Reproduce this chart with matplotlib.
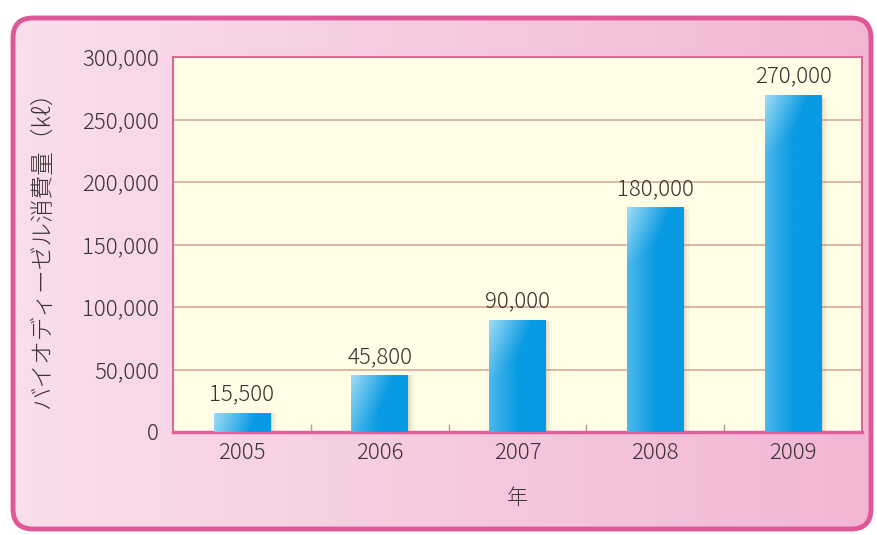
import numpy as np
import matplotlib
matplotlib.use('Agg')
import matplotlib.pyplot as plt
from matplotlib.patches import FancyBboxPatch, Rectangle
from matplotlib.ticker import FuncFormatter, MultipleLocator

plt.rcParams['font.family'] = ['Noto Sans CJK JP', 'DejaVu Sans']

years = ['2005', '2006', '2007', '2008', '2009']
consumption = [15500, 45800, 90000, 180000, 270000]
value_labels = ['15,500', '45,800', '90,000', '180,000', '270,000']
ylabel = 'バイオディーゼル消費量（kℓ）'
xlabel = '年'

W, H = 878, 535
fig = plt.figure(figsize=(W / 100, H / 100), dpi=100)
fig.patch.set_facecolor('white')

# rounded pink panel behind everything
bg = fig.add_axes([0, 0, 1, 1], zorder=0)
bg.set_xlim(0, W)
bg.set_ylim(0, H)
bg.axis('off')
u = np.linspace(0, 1, 256)
c0 = np.array([250, 222, 236]) / 255
c1 = np.array([242, 182, 212]) / 255
grad = (c0[None, :] * (1 - u[:, None]) + c1[None, :] * u[:, None])[None, :, :]
panel = FancyBboxPatch((13, 6), 858, 511, boxstyle='round,pad=0,rounding_size=20',
                       facecolor='none', edgecolor='#de5898', linewidth=3.5, zorder=3)
bg.add_patch(panel)
im = bg.imshow(grad, extent=[13, 871, 6, 517], aspect='auto', zorder=1)
im.set_clip_path(panel)

ax = fig.add_axes([173 / W, 1 - 432 / H, (862 - 173) / W, (432 - 57) / H], zorder=2)
ax.set_facecolor('#fffde6')
x = np.arange(len(years))
bw = 0.41
bars = ax.bar(x, consumption, width=bw, color='#0a9be2', zorder=3)

ax.set_xlim(-0.5, len(years) - 0.5)
ax.set_ylim(0, 300000)

# bar shading: light top-left fading to solid blue, plus soft shadow on the right
ppd_y = (432 - 57) / 300000.0
for b in bars:
    x0, h = b.get_x(), b.get_height()
    for k, a in enumerate([0.12, 0.08, 0.05, 0.03]):
        ax.add_patch(Rectangle((x0 + bw, 0), 0.012 * (k + 1), h * 0.99,
                               facecolor='#8a7a60', alpha=a, lw=0, zorder=2))
    hp = max(int(h * ppd_y), 2)
    yy = np.linspace(1, 0, hp)[:, None]          # 1 at top
    xx = np.linspace(0, 1, 60)[None, :]
    dist_top = (1 - yy) * hp                       # pixels from top
    t = np.clip(1 - xx * 1.3 - dist_top / 110.0, 0, 1)
    t = np.maximum(t, np.clip(0.45 - xx * 0.9, 0, 1))
    light = np.array([160, 220, 246]) / 255
    dark = np.array([8, 154, 226]) / 255
    img = light * t[:, :, None] + dark * (1 - t[:, :, None])
    bi = ax.imshow(img, extent=[x0, x0 + bw, 0, h], aspect='auto', zorder=3)
    bi.set_clip_path(b)

for xi, v, lab in zip(x, consumption, value_labels):
    ax.annotate(lab, (xi, v), xytext=(0, 5), textcoords='offset points',
                ha='center', va='bottom', fontsize=16, fontweight='light',
                color='#3a3232', zorder=5)

ax.yaxis.set_major_locator(MultipleLocator(50000))
ax.yaxis.set_major_formatter(FuncFormatter(lambda v, p: f'{int(v):,}'))
ax.grid(axis='y', color='#d9b3a2', linewidth=1.3, zorder=1)
ax.set_axisbelow(True)

ax.set_xticks(x)
ax.set_xticklabels(years)
ax.set_xticks(np.arange(0.5, len(years) - 0.5, 1), minor=True)
ax.tick_params(axis='x', which='major', length=0, pad=7, labelsize=16, labelcolor='#3a3232')
ax.tick_params(axis='x', which='minor', direction='in', length=6, color='#b89a90', width=1)
ax.tick_params(axis='y', length=0, pad=10, labelsize=16, labelcolor='#3a3232')
for lab in ax.get_xticklabels() + ax.get_yticklabels():
    lab.set_fontweight('light')

for s in ['left', 'top', 'right']:
    ax.spines[s].set_color('#d86a9a')
    ax.spines[s].set_linewidth(1.5)
ax.spines['bottom'].set_color('#e0609c')
ax.spines['bottom'].set_linewidth(2.5)

ax.set_ylabel(ylabel, fontsize=17, color='#3a3232', fontweight='light')
ax.yaxis.set_label_coords(-0.172, 0.5)
ax.set_xlabel(xlabel, fontsize=15, color='#3a3232', labelpad=17, fontweight='light')

fig.savefig('out.png', dpi=100)
